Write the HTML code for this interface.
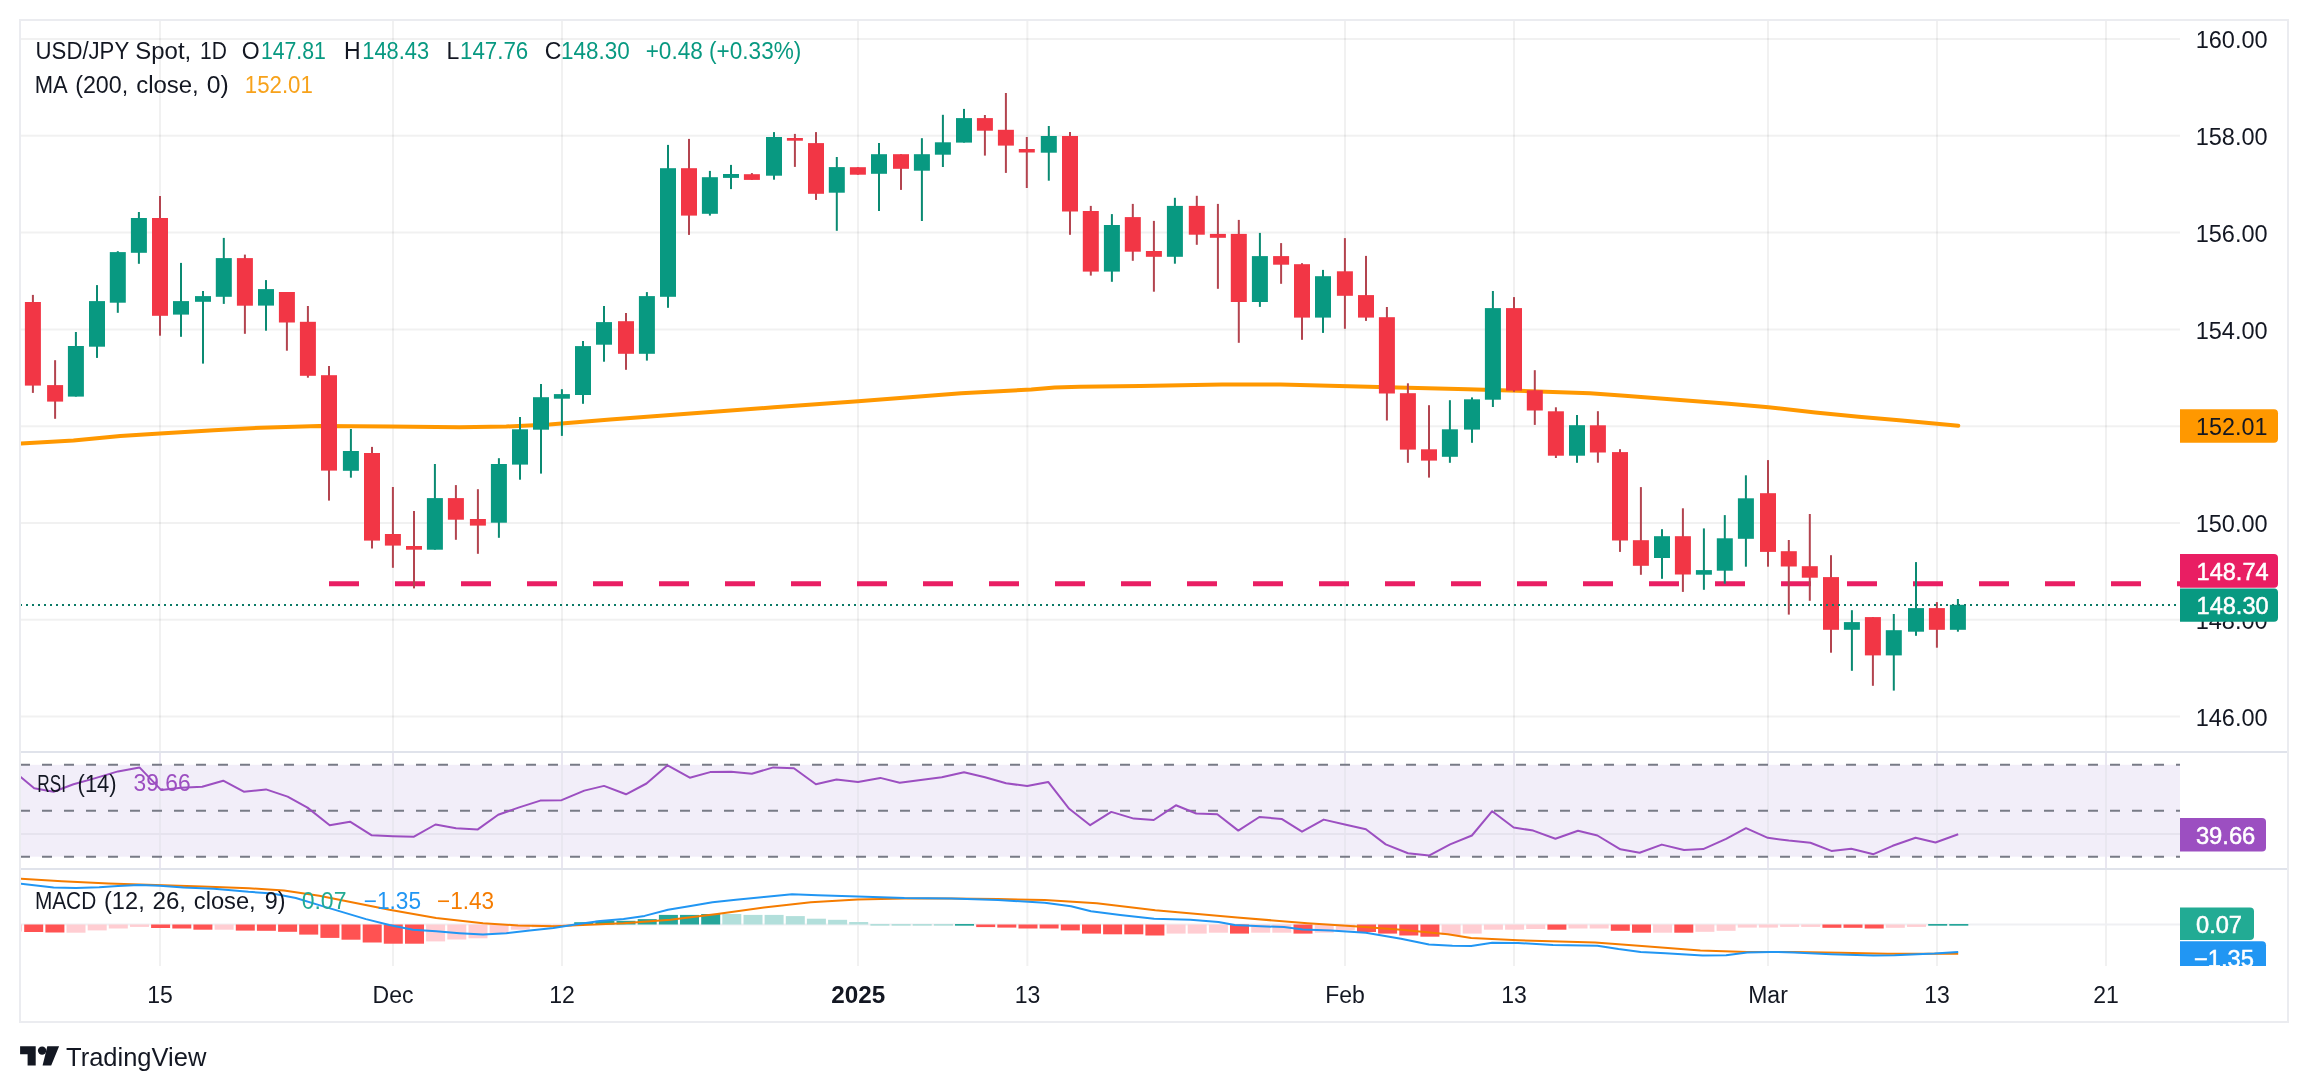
<!DOCTYPE html>
<html><head><meta charset="utf-8"><title>USD/JPY Spot chart</title>
<style>html,body{margin:0;padding:0;background:#fff;overflow:hidden}svg{display:block;will-change:transform}</style>
</head><body>
<svg width="2308" height="1092" viewBox="0 0 2308 1092">
<defs>
<clipPath id="cp"><rect x="21" y="21" width="2159" height="730"/></clipPath>
<clipPath id="cr"><rect x="21" y="753" width="2159" height="115"/></clipPath>
<clipPath id="cm"><rect x="21" y="870" width="2159" height="96"/></clipPath>
<clipPath id="cma"><rect x="2180" y="870" width="107" height="96"/></clipPath>
</defs>
<rect x="0" y="0" width="2308" height="1092" fill="#ffffff"/>
<line x1="160" y1="21" x2="160" y2="966" stroke="rgba(40,52,52,0.068)" stroke-width="2"/>
<line x1="393" y1="21" x2="393" y2="966" stroke="rgba(40,52,52,0.068)" stroke-width="2"/>
<line x1="562" y1="21" x2="562" y2="966" stroke="rgba(40,52,52,0.068)" stroke-width="2"/>
<line x1="858" y1="21" x2="858" y2="966" stroke="rgba(40,52,52,0.068)" stroke-width="2"/>
<line x1="1027.3" y1="21" x2="1027.3" y2="966" stroke="rgba(40,52,52,0.068)" stroke-width="2"/>
<line x1="1345" y1="21" x2="1345" y2="966" stroke="rgba(40,52,52,0.068)" stroke-width="2"/>
<line x1="1514" y1="21" x2="1514" y2="966" stroke="rgba(40,52,52,0.068)" stroke-width="2"/>
<line x1="1768" y1="21" x2="1768" y2="966" stroke="rgba(40,52,52,0.068)" stroke-width="2"/>
<line x1="1937" y1="21" x2="1937" y2="966" stroke="rgba(40,52,52,0.068)" stroke-width="2"/>
<line x1="2106" y1="21" x2="2106" y2="966" stroke="rgba(40,52,52,0.068)" stroke-width="2"/>
<line x1="21" y1="38.9" x2="2180" y2="38.9" stroke="rgba(40,52,52,0.068)" stroke-width="2"/>
<line x1="21" y1="135.7" x2="2180" y2="135.7" stroke="rgba(40,52,52,0.068)" stroke-width="2"/>
<line x1="21" y1="232.5" x2="2180" y2="232.5" stroke="rgba(40,52,52,0.068)" stroke-width="2"/>
<line x1="21" y1="329.4" x2="2180" y2="329.4" stroke="rgba(40,52,52,0.068)" stroke-width="2"/>
<line x1="21" y1="426.2" x2="2180" y2="426.2" stroke="rgba(40,52,52,0.068)" stroke-width="2"/>
<line x1="21" y1="523.0" x2="2180" y2="523.0" stroke="rgba(40,52,52,0.068)" stroke-width="2"/>
<line x1="21" y1="619.8" x2="2180" y2="619.8" stroke="rgba(40,52,52,0.068)" stroke-width="2"/>
<line x1="21" y1="716.6" x2="2180" y2="716.6" stroke="rgba(40,52,52,0.068)" stroke-width="2"/>
<rect x="21" y="764.8" width="2159" height="91.9" fill="#f2eef9"/>
<line x1="160" y1="753" x2="160" y2="868" stroke="#e9e7f0" stroke-width="2"/>
<line x1="393" y1="753" x2="393" y2="868" stroke="#e9e7f0" stroke-width="2"/>
<line x1="562" y1="753" x2="562" y2="868" stroke="#e9e7f0" stroke-width="2"/>
<line x1="858" y1="753" x2="858" y2="868" stroke="#e9e7f0" stroke-width="2"/>
<line x1="1027.3" y1="753" x2="1027.3" y2="868" stroke="#e9e7f0" stroke-width="2"/>
<line x1="1345" y1="753" x2="1345" y2="868" stroke="#e9e7f0" stroke-width="2"/>
<line x1="1514" y1="753" x2="1514" y2="868" stroke="#e9e7f0" stroke-width="2"/>
<line x1="1768" y1="753" x2="1768" y2="868" stroke="#e9e7f0" stroke-width="2"/>
<line x1="1937" y1="753" x2="1937" y2="868" stroke="#e9e7f0" stroke-width="2"/>
<line x1="2106" y1="753" x2="2106" y2="868" stroke="#e9e7f0" stroke-width="2"/>
<line x1="21" y1="834" x2="2180" y2="834" stroke="#e6e3ee" stroke-width="2"/>
<line x1="20" y1="764.8" x2="2180" y2="764.8" stroke="#787b86" stroke-width="2" stroke-dasharray="10 12"/>
<line x1="20" y1="810.7" x2="2180" y2="810.7" stroke="#787b86" stroke-width="2" stroke-dasharray="10 12"/>
<line x1="20" y1="856.7" x2="2180" y2="856.7" stroke="#787b86" stroke-width="2" stroke-dasharray="10 12"/>
<line x1="21" y1="924.5" x2="2180" y2="924.5" stroke="#eff0f3" stroke-width="2"/>
<line x1="20" y1="752" x2="2288" y2="752" stroke="#e0e3eb" stroke-width="2"/>
<line x1="20" y1="869" x2="2288" y2="869" stroke="#e0e3eb" stroke-width="2"/>
<rect x="20" y="20" width="2268" height="1002" fill="none" stroke="#ebecf0" stroke-width="2"/>
<g clip-path="url(#cp)">
<polyline points="20.1,443.6 73.5,440.6 120.3,436.1 160.0,433.5 213.9,430.3 260.7,427.7 319.2,426.1 389.4,426.5 459.5,427.2 506.3,426.5 549.4,424.6 610.2,419.5 703.8,412.4 774.0,407.3 858.2,401.2 961.2,393.2 1031.3,389.5 1054.7,387.6 1080.0,386.7 1140.2,385.9 1222.1,384.5 1280.6,384.5 1339.1,385.9 1397.6,387.5 1467.8,389.2 1538.0,391.5 1590.0,393.3 1624.7,395.7 1676.7,399.7 1728.6,403.7 1768.5,407.2 1815.3,412.4 1858.6,416.7 1902.0,420.5 1958.3,425.7" fill="none" stroke="#ff9800" stroke-width="4" stroke-linejoin="round" stroke-linecap="round"/>
<line x1="329" y1="583.7" x2="2180" y2="583.7" stroke="#e91e63" stroke-width="5" stroke-dasharray="30 36"/>
<rect x="31.9" y="294.9" width="2" height="98.0" fill="#b3444f"/>
<rect x="24.9" y="302.0" width="16" height="83.6" fill="#f23645"/>
<rect x="54.1" y="360.2" width="2" height="58.6" fill="#b3444f"/>
<rect x="47.1" y="385.1" width="16" height="16.5" fill="#f23645"/>
<rect x="74.9" y="332.0" width="2" height="64.6" fill="#0a8a72"/>
<rect x="67.9" y="346.0" width="16" height="50.6" fill="#089981"/>
<rect x="96.0" y="285.1" width="2" height="72.8" fill="#0a8a72"/>
<rect x="89.0" y="301.1" width="16" height="45.6" fill="#089981"/>
<rect x="116.8" y="251.2" width="2" height="61.6" fill="#0a8a72"/>
<rect x="109.8" y="252.1" width="16" height="50.6" fill="#089981"/>
<rect x="137.9" y="212.0" width="2" height="51.8" fill="#0a8a72"/>
<rect x="130.9" y="218.0" width="16" height="34.8" fill="#089981"/>
<rect x="159.0" y="196.0" width="2" height="139.7" fill="#b3444f"/>
<rect x="152.0" y="218.0" width="16" height="97.8" fill="#f23645"/>
<rect x="180.0" y="262.9" width="2" height="73.9" fill="#0a8a72"/>
<rect x="173.0" y="301.1" width="16" height="13.5" fill="#089981"/>
<rect x="202.0" y="291.0" width="2" height="72.6" fill="#0a8a72"/>
<rect x="195.0" y="296.1" width="16" height="5.7" fill="#089981"/>
<rect x="222.8" y="237.9" width="2" height="66.0" fill="#0a8a72"/>
<rect x="215.8" y="258.1" width="16" height="38.7" fill="#089981"/>
<rect x="243.9" y="254.6" width="2" height="79.2" fill="#b3444f"/>
<rect x="236.9" y="258.1" width="16" height="47.6" fill="#f23645"/>
<rect x="265.0" y="280.1" width="2" height="50.6" fill="#0a8a72"/>
<rect x="258.0" y="289.1" width="16" height="16.5" fill="#089981"/>
<rect x="285.9" y="292.0" width="2" height="58.7" fill="#b3444f"/>
<rect x="278.9" y="292.0" width="16" height="30.5" fill="#f23645"/>
<rect x="306.9" y="306.0" width="2" height="71.7" fill="#b3444f"/>
<rect x="299.9" y="321.8" width="16" height="54.0" fill="#f23645"/>
<rect x="328.0" y="366.0" width="2" height="134.6" fill="#b3444f"/>
<rect x="321.0" y="375.2" width="16" height="95.4" fill="#f23645"/>
<rect x="349.9" y="429.0" width="2" height="48.7" fill="#0a8a72"/>
<rect x="342.9" y="451.0" width="16" height="19.8" fill="#089981"/>
<rect x="371.0" y="446.9" width="2" height="101.6" fill="#b3444f"/>
<rect x="364.0" y="453.0" width="16" height="87.6" fill="#f23645"/>
<rect x="391.9" y="487.0" width="2" height="80.8" fill="#b3444f"/>
<rect x="384.9" y="534.0" width="16" height="11.6" fill="#f23645"/>
<rect x="413.0" y="511.0" width="2" height="77.4" fill="#b3444f"/>
<rect x="406.0" y="546.0" width="16" height="3.7" fill="#f23645"/>
<rect x="433.9" y="464.0" width="2" height="85.7" fill="#0a8a72"/>
<rect x="426.9" y="498.1" width="16" height="51.6" fill="#089981"/>
<rect x="454.9" y="485.1" width="2" height="54.7" fill="#b3444f"/>
<rect x="447.9" y="498.1" width="16" height="21.6" fill="#f23645"/>
<rect x="476.9" y="489.2" width="2" height="64.6" fill="#b3444f"/>
<rect x="469.9" y="519.0" width="16" height="6.6" fill="#f23645"/>
<rect x="497.9" y="458.2" width="2" height="79.6" fill="#0a8a72"/>
<rect x="490.9" y="464.0" width="16" height="58.7" fill="#089981"/>
<rect x="519.0" y="417.0" width="2" height="62.7" fill="#0a8a72"/>
<rect x="512.0" y="429.3" width="16" height="35.3" fill="#089981"/>
<rect x="540.0" y="384.0" width="2" height="89.6" fill="#0a8a72"/>
<rect x="533.0" y="397.2" width="16" height="32.5" fill="#089981"/>
<rect x="560.9" y="389.2" width="2" height="46.7" fill="#0a8a72"/>
<rect x="553.9" y="394.1" width="16" height="4.6" fill="#089981"/>
<rect x="582.0" y="341.0" width="2" height="62.8" fill="#0a8a72"/>
<rect x="575.0" y="346.1" width="16" height="48.9" fill="#089981"/>
<rect x="603.0" y="306.0" width="2" height="55.7" fill="#0a8a72"/>
<rect x="596.0" y="322.1" width="16" height="22.6" fill="#089981"/>
<rect x="625.0" y="313.0" width="2" height="56.8" fill="#b3444f"/>
<rect x="618.0" y="321.2" width="16" height="32.6" fill="#f23645"/>
<rect x="645.9" y="292.1" width="2" height="68.5" fill="#0a8a72"/>
<rect x="638.9" y="296.1" width="16" height="57.7" fill="#089981"/>
<rect x="667.0" y="144.9" width="2" height="162.9" fill="#0a8a72"/>
<rect x="660.0" y="168.2" width="16" height="128.6" fill="#089981"/>
<rect x="688.0" y="138.9" width="2" height="96.0" fill="#b3444f"/>
<rect x="681.0" y="168.2" width="16" height="47.4" fill="#f23645"/>
<rect x="708.9" y="170.9" width="2" height="44.7" fill="#0a8a72"/>
<rect x="701.9" y="177.2" width="16" height="36.6" fill="#089981"/>
<rect x="730.0" y="164.9" width="2" height="24.2" fill="#0a8a72"/>
<rect x="723.0" y="174.0" width="16" height="3.9" fill="#089981"/>
<rect x="750.9" y="173.1" width="2" height="6.8" fill="#b3444f"/>
<rect x="743.9" y="174.2" width="16" height="5.7" fill="#f23645"/>
<rect x="773.0" y="132.1" width="2" height="47.6" fill="#0a8a72"/>
<rect x="766.0" y="137.0" width="16" height="38.7" fill="#089981"/>
<rect x="793.9" y="133.9" width="2" height="33.0" fill="#b3444f"/>
<rect x="786.9" y="138.0" width="16" height="2.7" fill="#f23645"/>
<rect x="815.0" y="132.1" width="2" height="67.8" fill="#b3444f"/>
<rect x="808.0" y="143.1" width="16" height="50.7" fill="#f23645"/>
<rect x="835.8" y="157.0" width="2" height="73.8" fill="#0a8a72"/>
<rect x="828.8" y="167.1" width="16" height="25.6" fill="#089981"/>
<rect x="856.9" y="167.2" width="2" height="7.5" fill="#b3444f"/>
<rect x="849.9" y="167.2" width="16" height="7.5" fill="#f23645"/>
<rect x="878.0" y="143.0" width="2" height="68.0" fill="#0a8a72"/>
<rect x="871.0" y="154.2" width="16" height="19.6" fill="#089981"/>
<rect x="900.0" y="154.2" width="2" height="35.7" fill="#b3444f"/>
<rect x="893.0" y="154.2" width="16" height="14.6" fill="#f23645"/>
<rect x="920.9" y="138.2" width="2" height="82.8" fill="#0a8a72"/>
<rect x="913.9" y="154.2" width="16" height="16.5" fill="#089981"/>
<rect x="941.9" y="114.8" width="2" height="52.2" fill="#0a8a72"/>
<rect x="934.9" y="142.3" width="16" height="12.4" fill="#089981"/>
<rect x="963.0" y="108.9" width="2" height="33.7" fill="#0a8a72"/>
<rect x="956.0" y="118.1" width="16" height="24.5" fill="#089981"/>
<rect x="983.9" y="115.0" width="2" height="40.6" fill="#b3444f"/>
<rect x="976.9" y="118.1" width="16" height="12.6" fill="#f23645"/>
<rect x="1004.9" y="93.0" width="2" height="79.9" fill="#b3444f"/>
<rect x="997.9" y="129.8" width="16" height="15.8" fill="#f23645"/>
<rect x="1025.8" y="137.0" width="2" height="51.0" fill="#b3444f"/>
<rect x="1018.8" y="149.0" width="16" height="3.5" fill="#f23645"/>
<rect x="1047.8" y="126.0" width="2" height="54.7" fill="#0a8a72"/>
<rect x="1040.8" y="136.0" width="16" height="16.7" fill="#089981"/>
<rect x="1069.0" y="132.0" width="2" height="102.8" fill="#b3444f"/>
<rect x="1062.0" y="136.0" width="16" height="75.5" fill="#f23645"/>
<rect x="1089.8" y="205.9" width="2" height="69.7" fill="#b3444f"/>
<rect x="1082.8" y="211.0" width="16" height="60.6" fill="#f23645"/>
<rect x="1110.9" y="214.1" width="2" height="67.7" fill="#0a8a72"/>
<rect x="1103.9" y="225.0" width="16" height="46.6" fill="#089981"/>
<rect x="1131.8" y="203.9" width="2" height="56.9" fill="#b3444f"/>
<rect x="1124.8" y="217.1" width="16" height="34.6" fill="#f23645"/>
<rect x="1152.9" y="220.9" width="2" height="70.8" fill="#b3444f"/>
<rect x="1145.9" y="251.0" width="16" height="5.8" fill="#f23645"/>
<rect x="1173.9" y="197.8" width="2" height="65.9" fill="#0a8a72"/>
<rect x="1166.9" y="205.9" width="16" height="50.9" fill="#089981"/>
<rect x="1195.8" y="195.8" width="2" height="49.0" fill="#b3444f"/>
<rect x="1188.8" y="205.9" width="16" height="28.8" fill="#f23645"/>
<rect x="1216.9" y="203.9" width="2" height="84.9" fill="#b3444f"/>
<rect x="1209.9" y="233.9" width="16" height="3.9" fill="#f23645"/>
<rect x="1237.8" y="219.9" width="2" height="122.9" fill="#b3444f"/>
<rect x="1230.8" y="233.9" width="16" height="68.1" fill="#f23645"/>
<rect x="1258.9" y="232.9" width="2" height="74.0" fill="#0a8a72"/>
<rect x="1251.9" y="256.1" width="16" height="45.9" fill="#089981"/>
<rect x="1280.1" y="243.1" width="2" height="40.7" fill="#b3444f"/>
<rect x="1273.1" y="256.1" width="16" height="8.6" fill="#f23645"/>
<rect x="1301.0" y="263.2" width="2" height="76.6" fill="#b3444f"/>
<rect x="1294.0" y="264.2" width="16" height="53.4" fill="#f23645"/>
<rect x="1322.0" y="269.9" width="2" height="63.0" fill="#0a8a72"/>
<rect x="1315.0" y="276.2" width="16" height="41.4" fill="#089981"/>
<rect x="1343.9" y="238.1" width="2" height="90.7" fill="#b3444f"/>
<rect x="1336.9" y="271.3" width="16" height="24.5" fill="#f23645"/>
<rect x="1365.0" y="255.9" width="2" height="65.0" fill="#b3444f"/>
<rect x="1358.0" y="295.1" width="16" height="22.5" fill="#f23645"/>
<rect x="1385.9" y="307.0" width="2" height="113.5" fill="#b3444f"/>
<rect x="1378.9" y="317.2" width="16" height="76.3" fill="#f23645"/>
<rect x="1406.9" y="383.3" width="2" height="79.5" fill="#b3444f"/>
<rect x="1399.9" y="393.2" width="16" height="56.4" fill="#f23645"/>
<rect x="1428.0" y="405.2" width="2" height="72.4" fill="#b3444f"/>
<rect x="1421.0" y="449.3" width="16" height="11.3" fill="#f23645"/>
<rect x="1448.9" y="400.2" width="2" height="62.6" fill="#0a8a72"/>
<rect x="1441.9" y="429.3" width="16" height="27.5" fill="#089981"/>
<rect x="1471.0" y="397.4" width="2" height="45.4" fill="#0a8a72"/>
<rect x="1464.0" y="399.3" width="16" height="30.3" fill="#089981"/>
<rect x="1491.9" y="291.0" width="2" height="116.0" fill="#0a8a72"/>
<rect x="1484.9" y="308.1" width="16" height="91.6" fill="#089981"/>
<rect x="1513.0" y="297.1" width="2" height="94.7" fill="#b3444f"/>
<rect x="1506.0" y="308.1" width="16" height="82.5" fill="#f23645"/>
<rect x="1533.8" y="370.2" width="2" height="54.7" fill="#b3444f"/>
<rect x="1526.8" y="390.3" width="16" height="20.2" fill="#f23645"/>
<rect x="1554.9" y="407.3" width="2" height="50.7" fill="#b3444f"/>
<rect x="1547.9" y="411.3" width="16" height="44.4" fill="#f23645"/>
<rect x="1576.0" y="415.0" width="2" height="47.8" fill="#0a8a72"/>
<rect x="1569.0" y="425.2" width="16" height="30.5" fill="#089981"/>
<rect x="1596.9" y="411.2" width="2" height="51.5" fill="#b3444f"/>
<rect x="1589.9" y="425.3" width="16" height="27.2" fill="#f23645"/>
<rect x="1619.0" y="449.2" width="2" height="102.7" fill="#b3444f"/>
<rect x="1612.0" y="452.1" width="16" height="88.4" fill="#f23645"/>
<rect x="1639.9" y="487.1" width="2" height="87.7" fill="#b3444f"/>
<rect x="1632.9" y="540.2" width="16" height="25.6" fill="#f23645"/>
<rect x="1661.0" y="529.2" width="2" height="49.6" fill="#0a8a72"/>
<rect x="1654.0" y="536.2" width="16" height="21.8" fill="#089981"/>
<rect x="1681.9" y="508.3" width="2" height="83.6" fill="#b3444f"/>
<rect x="1674.9" y="536.2" width="16" height="38.3" fill="#f23645"/>
<rect x="1702.9" y="528.4" width="2" height="61.4" fill="#0a8a72"/>
<rect x="1695.9" y="570.1" width="16" height="4.6" fill="#089981"/>
<rect x="1723.8" y="515.1" width="2" height="68.6" fill="#0a8a72"/>
<rect x="1716.8" y="538.3" width="16" height="32.4" fill="#089981"/>
<rect x="1744.9" y="475.3" width="2" height="91.4" fill="#0a8a72"/>
<rect x="1737.9" y="498.3" width="16" height="40.5" fill="#089981"/>
<rect x="1767.0" y="460.1" width="2" height="106.6" fill="#b3444f"/>
<rect x="1760.0" y="493.2" width="16" height="58.7" fill="#f23645"/>
<rect x="1787.8" y="540.0" width="2" height="74.6" fill="#b3444f"/>
<rect x="1780.8" y="551.2" width="16" height="15.3" fill="#f23645"/>
<rect x="1808.8" y="514.0" width="2" height="86.8" fill="#b3444f"/>
<rect x="1801.8" y="566.2" width="16" height="11.5" fill="#f23645"/>
<rect x="1830.0" y="555.2" width="2" height="97.5" fill="#b3444f"/>
<rect x="1823.0" y="577.1" width="16" height="52.7" fill="#f23645"/>
<rect x="1850.9" y="610.2" width="2" height="60.6" fill="#0a8a72"/>
<rect x="1843.9" y="622.1" width="16" height="7.7" fill="#089981"/>
<rect x="1871.9" y="617.1" width="2" height="68.7" fill="#b3444f"/>
<rect x="1864.9" y="617.1" width="16" height="38.3" fill="#f23645"/>
<rect x="1892.8" y="614.0" width="2" height="76.6" fill="#0a8a72"/>
<rect x="1885.8" y="630.2" width="16" height="25.2" fill="#089981"/>
<rect x="1915.0" y="562.1" width="2" height="73.7" fill="#0a8a72"/>
<rect x="1908.0" y="608.1" width="16" height="23.6" fill="#089981"/>
<rect x="1935.9" y="602.1" width="2" height="45.6" fill="#b3444f"/>
<rect x="1928.9" y="608.1" width="16" height="21.7" fill="#f23645"/>
<rect x="1956.9" y="599.0" width="2" height="32.7" fill="#0a8a72"/>
<rect x="1949.9" y="604.8" width="16" height="25.0" fill="#089981"/>
<line x1="20" y1="605" x2="2180" y2="605" stroke="#0b7a66" stroke-width="2" stroke-dasharray="2 4"/>
</g>
<g clip-path="url(#cr)">
<polyline points="20.1,776.5 34.2,788.2 53.6,791.7 73.5,784.2 94.5,778.4 118.0,771.4 139.5,767.4 161.2,790.1 181.0,787.8 202.2,786.8 223.2,780.7 243.8,791.7 266.0,789.4 287.6,796.6 307.5,807.6 329.7,825.2 350.0,821.7 371.8,835.3 392.9,836.2 414.0,836.7 435.5,824.5 456.0,828.2 477.8,829.4 498.2,814.7 519.2,807.4 540.3,800.6 561.6,800.2 584.3,790.6 604.0,785.9 626.0,794.3 646.5,783.5 667.6,765.3 689.8,777.7 710.2,772.1 731.2,771.8 751.8,773.7 773.3,767.4 793.9,768.3 815.9,784.2 836.5,779.6 858.0,782.1 880.3,777.9 899.7,782.8 920.7,780.0 941.8,777.2 964.0,772.3 985.0,777.2 1006.1,783.3 1027.2,786.1 1048.2,781.9 1069.2,808.8 1090.2,825.2 1111.3,811.9 1133.8,818.6 1153.7,820.0 1175.9,805.3 1196.2,813.5 1217.3,814.2 1238.3,830.6 1259.4,817.0 1281.6,818.9 1302.0,831.7 1323.7,819.6 1344.8,824.5 1365.9,829.2 1385.7,844.4 1408.0,853.3 1429.0,855.6 1450.1,844.4 1471.9,835.5 1492.2,811.2 1513.7,827.5 1533.2,830.6 1555.4,838.8 1578.0,830.8 1597.4,835.5 1620.4,849.3 1639.6,852.8 1661.8,844.6 1684.0,850.0 1703.2,849.1 1726.1,838.8 1746.0,828.2 1767.8,837.8 1788.8,840.6 1810.4,842.7 1831.4,850.9 1851.3,848.8 1873.5,854.2 1892.7,845.8 1915.6,837.8 1935.5,842.5 1958.2,834.3" fill="none" stroke="#9c4fc1" stroke-width="2" stroke-linejoin="round"/>
</g>
<g clip-path="url(#cm)">
<rect x="3.0" y="924.5" width="19" height="7.0" fill="#ffcdd2"/>
<rect x="24.2" y="924.5" width="19" height="7.5" fill="#ff5252"/>
<rect x="45.4" y="924.5" width="19" height="8.0" fill="#ff5252"/>
<rect x="66.5" y="924.5" width="19" height="8.2" fill="#ffcdd2"/>
<rect x="87.7" y="924.5" width="19" height="5.9" fill="#ffcdd2"/>
<rect x="108.8" y="924.5" width="19" height="4.0" fill="#ffcdd2"/>
<rect x="130.0" y="924.5" width="19" height="2.4" fill="#ffcdd2"/>
<rect x="151.1" y="924.5" width="19" height="3.5" fill="#ff5252"/>
<rect x="172.3" y="924.5" width="19" height="4.0" fill="#ff5252"/>
<rect x="193.4" y="924.5" width="19" height="5.2" fill="#ff5252"/>
<rect x="214.6" y="924.5" width="19" height="5.2" fill="#ffcdd2"/>
<rect x="235.8" y="924.5" width="19" height="6.1" fill="#ff5252"/>
<rect x="256.9" y="924.5" width="19" height="6.3" fill="#ff5252"/>
<rect x="278.1" y="924.5" width="19" height="7.3" fill="#ff5252"/>
<rect x="299.2" y="924.5" width="19" height="10.1" fill="#ff5252"/>
<rect x="320.4" y="924.5" width="19" height="13.4" fill="#ff5252"/>
<rect x="341.5" y="924.5" width="19" height="15.2" fill="#ff5252"/>
<rect x="362.7" y="924.5" width="19" height="18.0" fill="#ff5252"/>
<rect x="383.8" y="924.5" width="19" height="19.2" fill="#ff5252"/>
<rect x="405.0" y="924.5" width="19" height="19.2" fill="#ff5252"/>
<rect x="426.1" y="924.5" width="19" height="16.9" fill="#ffcdd2"/>
<rect x="447.3" y="924.5" width="19" height="15.0" fill="#ffcdd2"/>
<rect x="468.5" y="924.5" width="19" height="13.8" fill="#ffcdd2"/>
<rect x="489.6" y="924.5" width="19" height="8.7" fill="#ffcdd2"/>
<rect x="510.8" y="924.5" width="19" height="5.2" fill="#ffcdd2"/>
<rect x="531.9" y="924.5" width="19" height="2.8" fill="#ffcdd2"/>
<rect x="553.1" y="924.5" width="19" height="2.0" fill="#ffcdd2"/>
<rect x="574.2" y="922.2" width="19" height="2.3" fill="#26a69a"/>
<rect x="595.4" y="920.8" width="19" height="3.7" fill="#26a69a"/>
<rect x="616.5" y="920.8" width="19" height="3.7" fill="#26a69a"/>
<rect x="637.7" y="919.1" width="19" height="5.4" fill="#26a69a"/>
<rect x="658.9" y="914.9" width="19" height="9.6" fill="#26a69a"/>
<rect x="680.0" y="914.9" width="19" height="9.6" fill="#26a69a"/>
<rect x="701.2" y="914.0" width="19" height="10.5" fill="#26a69a"/>
<rect x="722.3" y="914.0" width="19" height="10.5" fill="#b2dfdb"/>
<rect x="743.5" y="914.9" width="19" height="9.6" fill="#b2dfdb"/>
<rect x="764.6" y="914.9" width="19" height="9.6" fill="#b2dfdb"/>
<rect x="785.8" y="916.1" width="19" height="8.4" fill="#b2dfdb"/>
<rect x="806.9" y="918.7" width="19" height="5.8" fill="#b2dfdb"/>
<rect x="828.1" y="919.8" width="19" height="4.7" fill="#b2dfdb"/>
<rect x="849.2" y="922.0" width="19" height="2.5" fill="#b2dfdb"/>
<rect x="870.4" y="924.0" width="19" height="1.7" fill="#b2dfdb"/>
<rect x="891.6" y="924.0" width="19" height="1.7" fill="#b2dfdb"/>
<rect x="912.7" y="924.0" width="19" height="1.7" fill="#b2dfdb"/>
<rect x="933.9" y="924.0" width="19" height="1.7" fill="#b2dfdb"/>
<rect x="955.0" y="924.0" width="19" height="1.7" fill="#26a69a"/>
<rect x="976.2" y="924.5" width="19" height="2.6" fill="#ff5252"/>
<rect x="997.3" y="924.5" width="19" height="3.1" fill="#ff5252"/>
<rect x="1018.5" y="924.5" width="19" height="4.0" fill="#ff5252"/>
<rect x="1039.6" y="924.5" width="19" height="4.0" fill="#ff5252"/>
<rect x="1060.8" y="924.5" width="19" height="5.9" fill="#ff5252"/>
<rect x="1082.0" y="924.5" width="19" height="9.1" fill="#ff5252"/>
<rect x="1103.1" y="924.5" width="19" height="9.8" fill="#ff5252"/>
<rect x="1124.3" y="924.5" width="19" height="9.8" fill="#ff5252"/>
<rect x="1145.4" y="924.5" width="19" height="11.0" fill="#ff5252"/>
<rect x="1166.6" y="924.5" width="19" height="9.1" fill="#ffcdd2"/>
<rect x="1187.7" y="924.5" width="19" height="9.1" fill="#ffcdd2"/>
<rect x="1208.9" y="924.5" width="19" height="8.2" fill="#ffcdd2"/>
<rect x="1230.0" y="924.5" width="19" height="9.1" fill="#ff5252"/>
<rect x="1251.2" y="924.5" width="19" height="8.2" fill="#ffcdd2"/>
<rect x="1272.3" y="924.5" width="19" height="8.2" fill="#ffcdd2"/>
<rect x="1293.5" y="924.5" width="19" height="9.1" fill="#ff5252"/>
<rect x="1314.7" y="924.5" width="19" height="8.2" fill="#ffcdd2"/>
<rect x="1335.8" y="924.5" width="19" height="5.9" fill="#ffcdd2"/>
<rect x="1357.0" y="924.5" width="19" height="7.5" fill="#ff5252"/>
<rect x="1378.1" y="924.5" width="19" height="9.1" fill="#ff5252"/>
<rect x="1399.3" y="924.5" width="19" height="11.0" fill="#ff5252"/>
<rect x="1420.4" y="924.5" width="19" height="12.2" fill="#ff5252"/>
<rect x="1441.6" y="924.5" width="19" height="10.5" fill="#ffcdd2"/>
<rect x="1462.7" y="924.5" width="19" height="9.1" fill="#ffcdd2"/>
<rect x="1483.9" y="924.5" width="19" height="5.2" fill="#ffcdd2"/>
<rect x="1505.1" y="924.5" width="19" height="5.2" fill="#ffcdd2"/>
<rect x="1526.2" y="924.5" width="19" height="4.5" fill="#ffcdd2"/>
<rect x="1547.4" y="924.5" width="19" height="5.2" fill="#ff5252"/>
<rect x="1568.5" y="924.5" width="19" height="4.0" fill="#ffcdd2"/>
<rect x="1589.7" y="924.5" width="19" height="4.0" fill="#ffcdd2"/>
<rect x="1610.8" y="924.5" width="19" height="6.3" fill="#ff5252"/>
<rect x="1632.0" y="924.5" width="19" height="8.2" fill="#ff5252"/>
<rect x="1653.1" y="924.5" width="19" height="8.2" fill="#ffcdd2"/>
<rect x="1674.3" y="924.5" width="19" height="8.2" fill="#ff5252"/>
<rect x="1695.4" y="924.5" width="19" height="7.3" fill="#ffcdd2"/>
<rect x="1716.6" y="924.5" width="19" height="6.3" fill="#ffcdd2"/>
<rect x="1737.8" y="924.5" width="19" height="3.1" fill="#ffcdd2"/>
<rect x="1758.9" y="924.5" width="19" height="3.1" fill="#ffcdd2"/>
<rect x="1780.1" y="924.5" width="19" height="2.4" fill="#ffcdd2"/>
<rect x="1801.2" y="924.5" width="19" height="2.4" fill="#ffcdd2"/>
<rect x="1822.4" y="924.5" width="19" height="3.3" fill="#ff5252"/>
<rect x="1843.5" y="924.5" width="19" height="3.3" fill="#ff5252"/>
<rect x="1864.7" y="924.5" width="19" height="4.0" fill="#ff5252"/>
<rect x="1885.8" y="924.5" width="19" height="3.3" fill="#ffcdd2"/>
<rect x="1907.0" y="924.5" width="19" height="2.4" fill="#ffcdd2"/>
<rect x="1928.2" y="924.0" width="19" height="1.7" fill="#26a69a"/>
<rect x="1949.3" y="924.0" width="19" height="1.7" fill="#26a69a"/>
<polyline points="20.1,878.7 61.8,881.2 108.6,883.6 155.4,885.0 202.2,886.4 249.0,888.2 284.0,890.6 319.2,895.7 354.3,902.8 389.4,909.8 436.1,918.0 483.0,923.3 518.0,925.5 555.0,926.2 576.8,925.2 623.6,923.3 670.4,919.8 717.2,914.0 764.0,907.4 810.8,902.3 857.6,899.5 904.4,898.5 951.2,898.5 998.0,899.0 1044.7,900.0 1096.8,903.2 1155.3,910.2 1237.2,917.5 1307.4,923.3 1354.2,926.2 1401.0,929.7 1447.8,934.3 1471.2,937.9 1518.0,940.2 1595.1,942.5 1641.9,946.0 1700.4,950.5 1747.2,951.9 1794.0,952.1 1840.8,952.8 1887.6,953.8 1934.4,953.8 1958.2,953.8" fill="none" stroke="#f57c00" stroke-width="2" stroke-linejoin="round"/>
<polyline points="20.1,883.6 53.6,887.5 75.8,888.0 99.2,887.3 118.0,885.9 139.0,885.0 160.0,885.7 183.5,887.5 213.9,888.7 248.5,891.8 272.4,893.4 295.8,898.0 319.2,905.1 342.6,912.1 366.0,919.1 389.4,925.0 412.8,929.7 436.1,931.3 459.5,933.2 483.0,934.6 506.3,933.2 529.7,930.4 553.4,928.0 576.8,924.3 600.2,921.0 623.6,919.1 644.6,915.9 668.0,909.8 689.1,906.3 712.5,902.3 735.9,899.7 764.0,896.9 792.0,894.3 817.8,895.3 857.6,896.4 904.4,898.1 951.2,898.5 998.0,900.0 1044.7,902.8 1071.0,906.3 1091.0,911.2 1120.2,914.9 1154.1,918.7 1190.4,919.8 1218.5,921.9 1234.8,925.0 1260.6,926.2 1284.0,927.1 1302.7,929.4 1330.8,930.4 1365.9,932.7 1401.0,938.8 1429.0,944.4 1452.4,945.8 1471.2,946.0 1492.2,942.8 1518.0,943.0 1553.0,944.9 1597.4,945.8 1618.5,949.1 1640.7,951.9 1665.3,953.3 1702.7,955.6 1726.1,955.2 1747.2,952.6 1770.6,951.9 1794.0,952.4 1831.4,954.2 1873.5,955.4 1894.6,955.2 1934.4,953.5 1958.2,951.9" fill="none" stroke="#2196f3" stroke-width="2" stroke-linejoin="round"/>
</g>
<g font-family="'Liberation Sans', 'DejaVu Sans', sans-serif">
<text x="35.6" y="58.8" fill="#131722" font-size="23" font-weight="normal" text-anchor="start" textLength="93.6" lengthAdjust="spacingAndGlyphs">USD/JPY</text>
<text x="135.3" y="58.8" fill="#131722" font-size="23" font-weight="normal" text-anchor="start" textLength="55.9" lengthAdjust="spacingAndGlyphs">Spot,</text>
<text x="200.1" y="58.8" fill="#131722" font-size="23" font-weight="normal" text-anchor="start" textLength="26.8" lengthAdjust="spacingAndGlyphs">1D</text>
<text x="241.8" y="58.8" fill="#131722" font-size="23" font-weight="normal" text-anchor="start">O</text>
<text x="260.9" y="58.8" fill="#089981" font-size="23" font-weight="normal" text-anchor="start" textLength="65" lengthAdjust="spacingAndGlyphs">147.81</text>
<text x="344.1" y="58.8" fill="#131722" font-size="23" font-weight="normal" text-anchor="start">H</text>
<text x="362.3" y="58.8" fill="#089981" font-size="23" font-weight="normal" text-anchor="start" textLength="66.8" lengthAdjust="spacingAndGlyphs">148.43</text>
<text x="446.4" y="58.8" fill="#131722" font-size="23" font-weight="normal" text-anchor="start">L</text>
<text x="460" y="58.8" fill="#089981" font-size="23" font-weight="normal" text-anchor="start" textLength="68.3" lengthAdjust="spacingAndGlyphs">147.76</text>
<text x="544.7" y="58.8" fill="#131722" font-size="23" font-weight="normal" text-anchor="start">C</text>
<text x="561" y="58.8" fill="#089981" font-size="23" font-weight="normal" text-anchor="start" textLength="68.7" lengthAdjust="spacingAndGlyphs">148.30</text>
<text x="645.7" y="58.8" fill="#089981" font-size="23" font-weight="normal" text-anchor="start" textLength="155.6" lengthAdjust="spacingAndGlyphs">+0.48 (+0.33%)</text>
<text x="34.7" y="93.2" fill="#131722" font-size="23" font-weight="normal" text-anchor="start" textLength="33.0" lengthAdjust="spacingAndGlyphs">MA</text>
<text x="75.2" y="93.2" fill="#131722" font-size="23" font-weight="normal" text-anchor="start" textLength="53.0" lengthAdjust="spacingAndGlyphs">(200,</text>
<text x="136.2" y="93.2" fill="#131722" font-size="23" font-weight="normal" text-anchor="start" textLength="62.6" lengthAdjust="spacingAndGlyphs">close,</text>
<text x="206.8" y="93.2" fill="#131722" font-size="23" font-weight="normal" text-anchor="start" textLength="22.0" lengthAdjust="spacingAndGlyphs">0)</text>
<text x="244.8" y="93.2" fill="#f7a21b" font-size="23" font-weight="normal" text-anchor="start" textLength="68.1" lengthAdjust="spacingAndGlyphs">152.01</text>
<text x="37.3" y="791.8" fill="#131722" font-size="23" font-weight="normal" text-anchor="start" textLength="28.6" lengthAdjust="spacingAndGlyphs">RSI</text>
<text x="77.6" y="791.8" fill="#131722" font-size="23" font-weight="normal" text-anchor="start" textLength="39" lengthAdjust="spacingAndGlyphs">(14)</text>
<text x="133.6" y="791.3" fill="#9c4fc1" font-size="23" font-weight="normal" text-anchor="start" textLength="57" lengthAdjust="spacingAndGlyphs">39.66</text>
<text x="34.9" y="909" fill="#131722" font-size="23" font-weight="normal" text-anchor="start" textLength="61.3" lengthAdjust="spacingAndGlyphs">MACD</text>
<text x="104.0" y="909" fill="#131722" font-size="23" font-weight="normal" text-anchor="start" textLength="40.7" lengthAdjust="spacingAndGlyphs">(12,</text>
<text x="152.5" y="909" fill="#131722" font-size="23" font-weight="normal" text-anchor="start" textLength="33.5" lengthAdjust="spacingAndGlyphs">26,</text>
<text x="193.8" y="909" fill="#131722" font-size="23" font-weight="normal" text-anchor="start" textLength="61.9" lengthAdjust="spacingAndGlyphs">close,</text>
<text x="264.8" y="909" fill="#131722" font-size="23" font-weight="normal" text-anchor="start" textLength="20.7" lengthAdjust="spacingAndGlyphs">9)</text>
<text x="301.7" y="909" fill="#22ab94" font-size="23" font-weight="normal" text-anchor="start">0.07</text>
<text x="363.7" y="909" fill="#2196f3" font-size="23" font-weight="normal" text-anchor="start" textLength="57.3" lengthAdjust="spacingAndGlyphs">−1.35</text>
<text x="437" y="909" fill="#f57c00" font-size="23" font-weight="normal" text-anchor="start" textLength="57" lengthAdjust="spacingAndGlyphs">−1.43</text>
<text x="2195.7" y="48.2" fill="#131722" font-size="23" font-weight="normal" text-anchor="start" textLength="72" lengthAdjust="spacingAndGlyphs">160.00</text>
<text x="2195.7" y="145.0" fill="#131722" font-size="23" font-weight="normal" text-anchor="start" textLength="72" lengthAdjust="spacingAndGlyphs">158.00</text>
<text x="2195.7" y="241.8" fill="#131722" font-size="23" font-weight="normal" text-anchor="start" textLength="72" lengthAdjust="spacingAndGlyphs">156.00</text>
<text x="2195.7" y="338.7" fill="#131722" font-size="23" font-weight="normal" text-anchor="start" textLength="72" lengthAdjust="spacingAndGlyphs">154.00</text>
<text x="2195.7" y="532.3" fill="#131722" font-size="23" font-weight="normal" text-anchor="start" textLength="72" lengthAdjust="spacingAndGlyphs">150.00</text>
<text x="2195.7" y="629.0999999999999" fill="#131722" font-size="23" font-weight="normal" text-anchor="start" textLength="72" lengthAdjust="spacingAndGlyphs">148.00</text>
<text x="2195.7" y="725.9" fill="#131722" font-size="23" font-weight="normal" text-anchor="start" textLength="72" lengthAdjust="spacingAndGlyphs">146.00</text>
<path d="M2180,409.3 H2274 Q2278,409.3 2278,413.3 V438.7 Q2278,442.7 2274,442.7 H2180 Z" fill="#ff9800"/>
<text x="2196.0" y="435.3" fill="#131722" font-size="23" font-weight="normal" text-anchor="start" textLength="71.4" lengthAdjust="spacingAndGlyphs">152.01</text>
<path d="M2180,554 H2274 Q2278,554 2278,558 V583.7 Q2278,587.7 2274,587.7 H2180 Z" fill="#e91e63"/>
<text x="2196.6" y="580.2" fill="#ffffff" font-size="23" font-weight="normal" text-anchor="start" textLength="72" lengthAdjust="spacingAndGlyphs" stroke="#ffffff" stroke-width="0.5">148.74</text>
<path d="M2180,588.4 H2274 Q2278,588.4 2278,592.4 V617.7 Q2278,621.7 2274,621.7 H2180 Z" fill="#089981"/>
<text x="2196.6" y="614.3" fill="#ffffff" font-size="23" font-weight="normal" text-anchor="start" textLength="72" lengthAdjust="spacingAndGlyphs" stroke="#ffffff" stroke-width="0.5">148.30</text>
<path d="M2180,818.1 H2262 Q2266,818.1 2266,822.1 V847.4 Q2266,851.4 2262,851.4 H2180 Z" fill="#9c4fc1"/>
<text x="2195.9" y="844" fill="#ffffff" font-size="23" font-weight="normal" text-anchor="start" textLength="59.4" lengthAdjust="spacingAndGlyphs" stroke="#ffffff" stroke-width="0.5">39.66</text>
<g clip-path="url(#cma)">
<path d="M2180,907.4 H2250 Q2254,907.4 2254,911.4 V936 Q2254,940 2250,940 H2180 Z" fill="#22ab94"/>
<text x="2196.0" y="933" fill="#ffffff" font-size="23" font-weight="normal" text-anchor="start" textLength="46" lengthAdjust="spacingAndGlyphs" stroke="#ffffff" stroke-width="0.5">0.07</text>
<path d="M2180,941.2 H2262 Q2266,941.2 2266,945.2 V970.5 Q2266,974.5 2262,974.5 H2180 Z" fill="#2196f3"/>
<text x="2194" y="967.2" fill="#ffffff" font-size="23" font-weight="normal" text-anchor="start" textLength="60" lengthAdjust="spacingAndGlyphs" stroke="#ffffff" stroke-width="0.5">−1.35</text>
</g>
<text x="160" y="1003" fill="#131722" font-size="23" font-weight="normal" text-anchor="middle">15</text>
<text x="393" y="1003" fill="#131722" font-size="23" font-weight="normal" text-anchor="middle">Dec</text>
<text x="562" y="1003" fill="#131722" font-size="23" font-weight="normal" text-anchor="middle">12</text>
<text x="858.3" y="1003" fill="#131722" font-size="23" font-weight="bold" text-anchor="middle" textLength="54" lengthAdjust="spacingAndGlyphs">2025</text>
<text x="1027.5" y="1003" fill="#131722" font-size="23" font-weight="normal" text-anchor="middle">13</text>
<text x="1345" y="1003" fill="#131722" font-size="23" font-weight="normal" text-anchor="middle">Feb</text>
<text x="1514" y="1003" fill="#131722" font-size="23" font-weight="normal" text-anchor="middle">13</text>
<text x="1768" y="1003" fill="#131722" font-size="23" font-weight="normal" text-anchor="middle">Mar</text>
<text x="1937" y="1003" fill="#131722" font-size="23" font-weight="normal" text-anchor="middle">13</text>
<text x="2106" y="1003" fill="#131722" font-size="23" font-weight="normal" text-anchor="middle">21</text>
<path d="M20.1,1046.2 H35.7 V1065.6 H27.6 V1054.2 H20.1 Z" fill="#131722"/>
<circle cx="42.1" cy="1050.6" r="4.2" fill="#131722"/>
<path d="M47.3,1046.2 H59.1 L51.2,1065.6 H42.6 Z" fill="#131722"/>
<text x="66" y="1065.6" fill="#131722" font-size="26" font-weight="normal" text-anchor="start" textLength="140.4" lengthAdjust="spacingAndGlyphs">TradingView</text>
</g>
</svg>
</body></html>
